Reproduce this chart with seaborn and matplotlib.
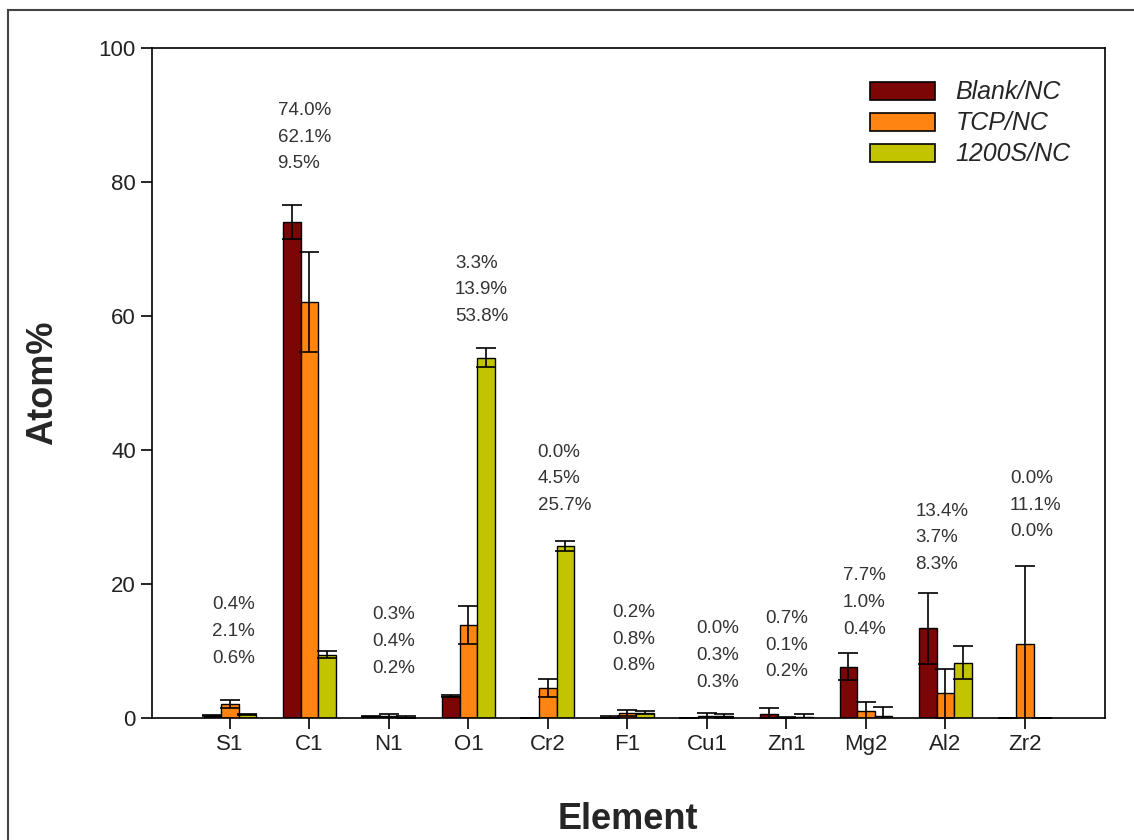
import numpy as np
import pandas as pd
import matplotlib
matplotlib.use("Agg")
import matplotlib.pyplot as plt
import seaborn as sns
from matplotlib.patches import Rectangle

# values
elements = ["S1", "C1", "N1", "O1", "Cr2", "F1", "Cu1", "Zn1", "Mg2", "Al2", "Zr2"]
groups = ["Blank/NC", "TCP/NC", "1200S/NC"]
blank = [0.4, 74.0, 0.3, 3.3, 0.0, 0.2, 0.0, 0.7, 7.7, 13.4, 0.0]
tcp = [2.1, 62.1, 0.4, 13.9, 4.5, 0.8, 0.3, 0.1, 1.0, 3.7, 11.1]
s1200 = [0.6, 9.5, 0.2, 53.8, 25.7, 0.8, 0.3, 0.2, 0.4, 8.3, 0.0]
blank_err = [0.1, 2.5, 0.1, 0.2, 0.0, 0.1, 0.0, 0.8, 2.0, 5.3, 0.0]
tcp_err = [0.6, 7.5, 0.2, 2.8, 1.4, 0.4, 0.5, 0.1, 1.4, 3.6, 11.6]
s1200_err = [0.1, 0.5, 0.1, 1.4, 0.8, 0.2, 0.3, 0.4, 1.2, 2.4, 0.0]

# where each stack of percentage labels sits (x of left edge, y of first line)
label_x = [-0.22, 0.60, 1.79, 2.83, 3.87, 4.81, 5.87, 6.73, 7.71, 8.62, 9.81]
label_y = [16.9, 90.7, 15.4, 67.9, 39.7, 15.8, 13.4, 14.9, 21.3, 30.9, 35.8]

colors = ["#7a0606", "#ff8412", "#c2c400"]

df = pd.DataFrame({
    "Element": elements * 3,
    "Group": [g for g in groups for _ in elements],
    "Atom": blank + tcp + s1200,
    "Err": blank_err + tcp_err + s1200_err,
})

sns.set_style("ticks")
plt.rcParams["font.family"] = ["Liberation Sans", "DejaVu Sans"]

fig = plt.figure(figsize=(11.34, 8.4), dpi=100)
ax = fig.add_axes([0.134, 0.145, 0.840, 0.798])

sns.barplot(data=df, x="Element", y="Atom", hue="Group", order=elements,
            hue_order=groups, palette=colors, width=0.66, edgecolor="black",
            linewidth=1.0, errorbar=None, saturation=1, ax=ax)

# error bars on each bar
errs = [blank_err, tcp_err, s1200_err]
for cont, vals, err in zip(ax.containers, [blank, tcp, s1200], errs):
    xs = [b.get_x() + b.get_width() / 2 for b in cont]
    ax.errorbar(xs, vals, yerr=err, fmt="none", ecolor="black",
                elinewidth=1.2, capsize=7, capthick=1.2, zorder=5)

# percentage labels
for i in range(len(elements)):
    lines = [f"{blank[i]:.1f}%", f"{tcp[i]:.1f}%", f"{s1200[i]:.1f}%"]
    for k, t in enumerate(lines):
        ax.text(label_x[i], label_y[i] - 4.0 * k, t, ha="left", va="center",
                fontsize=13.5, color="#333333")

ax.set_xlim(-0.98, 11.0)
ax.set_ylim(0, 100)
ax.set_yticks([0, 20, 40, 60, 80, 100])
for s in ax.spines.values():
    s.set_visible(True)
    s.set_linewidth(1.2)
    s.set_color("black")
ax.tick_params(axis="both", direction="out", length=8, width=1.2,
               labelsize=16, colors="black", labelcolor="#222222")
ax.set_xlabel("Element", fontsize=26, fontweight="bold", labelpad=34)
ax.set_ylabel("Atom%", fontsize=26, fontweight="bold", labelpad=28)

leg = ax.legend(loc="upper right", bbox_to_anchor=(0.988, 0.985), frameon=False,
                fontsize=18, handlelength=2.6, handleheight=0.75,
                handletextpad=0.8, labelspacing=0.28)
for t in leg.get_texts():
    t.set_fontstyle("italic")
for h in leg.legend_handles:
    h.set_edgecolor("black")
    h.set_linewidth(1.2)

# outer frame around the figure
fig.patches.append(Rectangle((0.007, -0.05), 1.2, 1.038, transform=fig.transFigure,
                             fill=False, edgecolor="#444444", linewidth=1.5))

fig.savefig("out.png", dpi=100)
